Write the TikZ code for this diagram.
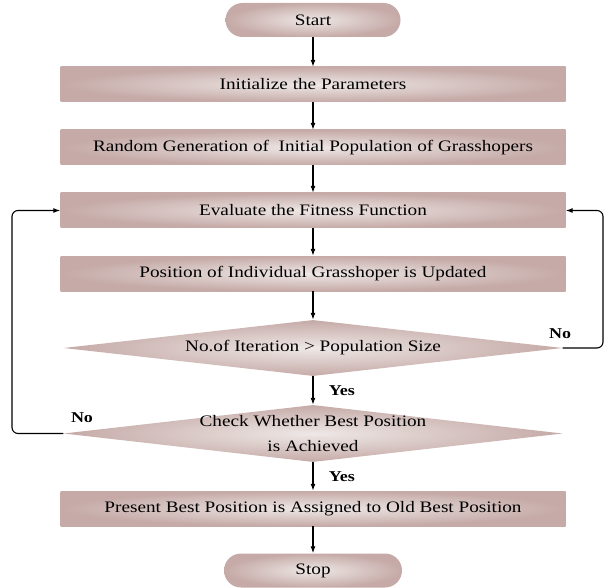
\documentclass[tikz,border=0pt]{standalone}
\usepackage{fontspec}
\setmainfont[FakeStretch=1.2]{Liberation Serif}
\usetikzlibrary{shapes.geometric,arrows.meta,positioning}
\definecolor{boxdark}{RGB}{197,170,167}
\definecolor{boxlight}{RGB}{238,232,230}
\tikzset{
  stepbox/.style={rectangle, minimum width=505pt, minimum height=35pt, inner sep=0pt,
    inner color=boxlight, outer color=boxdark, font=\fontsize{16}{19}\selectfont},
  termbox/.style={stepbox, rounded corners=17pt, minimum width=175pt, minimum height=34pt},
  testbox/.style={diamond, aspect=9, minimum width=499pt, minimum height=56pt, inner sep=0pt,
    inner color=boxlight, outer color=boxdark},
  flow/.style={-{Latex[length=7pt,width=5pt]}, line width=1.1pt},
  answer/.style={font=\fontsize{15}{17}\selectfont\bfseries}
}

\begin{document}
\begin{tikzpicture}[x=1pt, y=-1pt]

\def\cx{313}
\def\lx{12}
\def\rx{603}

\useasboundingbox (0,0) rectangle (605,588);

\node[termbox] (start) at (\cx,20) {Start};
\node[stepbox] (init) at (\cx,84.5) {Initialize the Parameters};
\node[stepbox] (gen) at (\cx,147.5) {Random Generation of\ \ Initial Population of Grasshopers};
\node[stepbox] (eval) at (\cx,210.5) {Evaluate the Fitness Function};
\node[stepbox] (update) at (\cx,273.5) {Position of Individual Grasshoper is Updated};
\node[testbox, label={[font=\fontsize{16}{19}\selectfont]center:No.of Iteration > Population Size}] (iter) at (\cx,348) {};
\node[testbox, minimum height=57pt, label={[align=center, font=\fontsize{16}{25}\selectfont]center:Check Whether Best Position\\is Achieved}] (best) at (\cx,433.5) {};
\node[stepbox] (assign) at (\cx,508.5) {Present Best Position is Assigned to Old Best Position};
\node[termbox, minimum width=178pt] (stop) at (\cx,570.5) {Stop};

\draw[flow] (start) -- (init);
\draw[flow] (init) -- (gen);
\draw[flow] (gen) -- (eval);
\draw[flow] (eval) -- (update);
\draw[flow] (update) -- (iter);
\draw[flow] (iter) -- node[answer, right, xshift=12pt] (yes1) {Yes} (best);
\draw[flow] (best) -- node[answer, right, xshift=12pt] (yes2) {Yes} (assign);
\draw[flow] (assign) -- (stop);

% loops back to the fitness step
\coordinate (rturn) at (\rx,348);
\coordinate (lturn) at (\lx,433.5);
\draw[flow, rounded corners=6pt] (iter.east) -- (rturn) |- (eval.east);
\draw[flow, rounded corners=6pt] (best.west) -- (lturn) |- (eval.west);
\node[answer] (no1) at (560,334) {No};
\node[answer] (no2) at (82,418) {No};

\end{tikzpicture}
\end{document}
